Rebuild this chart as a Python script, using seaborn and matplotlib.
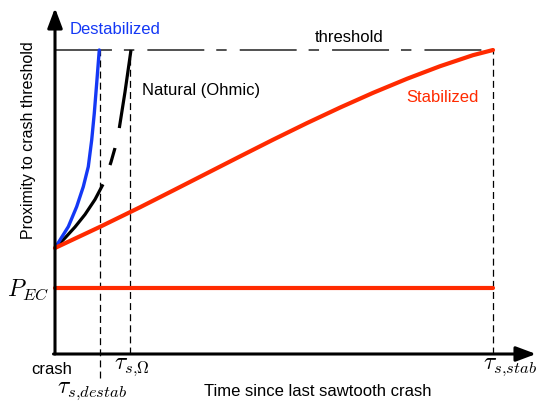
import numpy as np
import pandas as pd
import matplotlib
matplotlib.use("Agg")
import matplotlib.pyplot as plt
import seaborn as sns

# ---- data (normalised units: time / tau_stab, proximity / threshold) ----
tau_destab = 0.103
tau_ohm = 0.171
tau_stab = 1.0
threshold = 1.0
p_ec = 0.217

destab_t = [0.0, 0.0304, 0.0495, 0.0646, 0.0760, 0.0838, 0.0897, 0.0952, 0.1011]
destab_p = [0.3487, 0.4188, 0.4846, 0.5503, 0.6161, 0.7039, 0.7918, 0.8905, 1.0]

natural_t = [0.0, 0.0228, 0.0457, 0.0685, 0.0913, 0.1096, 0.1187, 0.1279,
             0.1370, 0.1461, 0.1598, 0.1735]
natural_p = [0.3487, 0.3816, 0.4178, 0.4589, 0.5082, 0.5582, 0.5921, 0.6316,
             0.6776, 0.7368, 0.8618, 1.0]

stab_t = [0.0, 0.1027, 0.1941, 0.2694, 0.3470, 0.4224, 0.4977, 0.5753, 0.6507,
          0.7260, 0.8037, 0.8790, 0.9543, 1.0]
stab_p = [0.3487, 0.4183, 0.4827, 0.5376, 0.5946, 0.6500, 0.7048, 0.7596, 0.8106,
          0.8590, 0.9054, 0.9466, 0.9830, 1.0]

pec_t = [0.0, 1.0]
pec_p = [p_ec, p_ec]

thr_t = [0.0, 1.0]
thr_p = [threshold, threshold]

BLUE = "#1438f5"
RED = "#ff2a00"

sns.set_theme(style="white")
plt.rcParams["font.family"] = ["Liberation Sans", "DejaVu Sans"]
plt.rcParams["mathtext.fontset"] = "cm"
plt.rcParams["lines.scale_dashes"] = False

fig = plt.figure(figsize=(5.36, 4.01), dpi=100)
ax = fig.add_axes([0, 0, 1, 1])
ax.set_xlim(-55 / 438, 481 / 438)
ax.set_ylim(-47 / 304, 354 / 304)
ax.axis("off")

# threshold line (long-short dash)
ax.plot(thr_t, thr_p, color="#222222", lw=1.1,
        linestyle=(0, (41, 8.6, 7.5, 9.4)), solid_capstyle="butt")

# vertical dashed markers
ax.vlines([tau_destab], -24 / 304, threshold, colors="black", lw=0.9,
          linestyles=(0, (5, 3)))
ax.vlines([tau_ohm, tau_stab], 0, threshold, colors="black", lw=0.9,
          linestyles=(0, (5, 3)))

# curves
sns.lineplot(x=natural_t, y=natural_p, color="black", lw=2.3, ax=ax,
             linestyle=(0, (57.7, 14.8, 12.8, 14.7, 100, 10)), sort=False)
sns.lineplot(x=destab_t, y=destab_p, color=BLUE, lw=2.4, ax=ax, sort=False)
sns.lineplot(x=stab_t, y=stab_p, color=RED, lw=3.0, ax=ax, sort=False)
sns.lineplot(x=pec_t, y=pec_p, color=RED, lw=3.0, ax=ax, sort=False)

# axes with arrows
ax.annotate("", xy=(0, 346 / 304), xytext=(0, 0),
            arrowprops=dict(arrowstyle="-|>,head_length=1.2,head_width=0.45",
                            lw=2.2, color="black", shrinkA=0, shrinkB=0,
                            mutation_scale=10))
ax.annotate("", xy=(481 / 438, 0), xytext=(-1.5 / 438, 0),
            arrowprops=dict(arrowstyle="-|>,head_length=1.2,head_width=0.45",
                            lw=2.2, color="black", shrinkA=0, shrinkB=0,
                            mutation_scale=10))

def px(x, y):
    return ((x - 55) / 438, (354 - y) / 304)

fs = 12
ax.text(*px(115, 29), "Destabilized", color=BLUE, fontsize=fs, ha="center", va="center")
ax.text(*px(201, 91), "Natural (Ohmic)", color="black", fontsize=fs, ha="center", va="center")
ax.text(*px(349, 38), "threshold", color="black", fontsize=fs, ha="center", va="center")
ax.text(*px(442, 98), "Stabilized", color=RED, fontsize=fs, ha="center", va="center")
ax.text(*px(29, 140), "Proximity to crash threshold", color="black", fontsize=11.5,
        ha="center", va="center", rotation=90)
ax.text(*px(318, 391), "Time since last sawtooth crash", color="black", fontsize=fs,
        ha="center", va="center")
ax.text(*px(52, 369), "crash", color="black", fontsize=fs, ha="center", va="center")
ax.text(*px(28, 290), r"$P_{EC}$", color="black", fontsize=17, ha="center", va="center")
ax.text(*px(92, 391), r"$\tau_{s{,}destab}$", color="black", fontsize=17, ha="center", va="center")
ax.text(*px(132, 367), r"$\tau_{s{,}\Omega}$", color="black", fontsize=17, ha="center", va="center")
ax.text(*px(510, 367), r"$\tau_{s{,}stab}$", color="black", fontsize=17, ha="center", va="center")

fig.savefig("out.png", dpi=100)
